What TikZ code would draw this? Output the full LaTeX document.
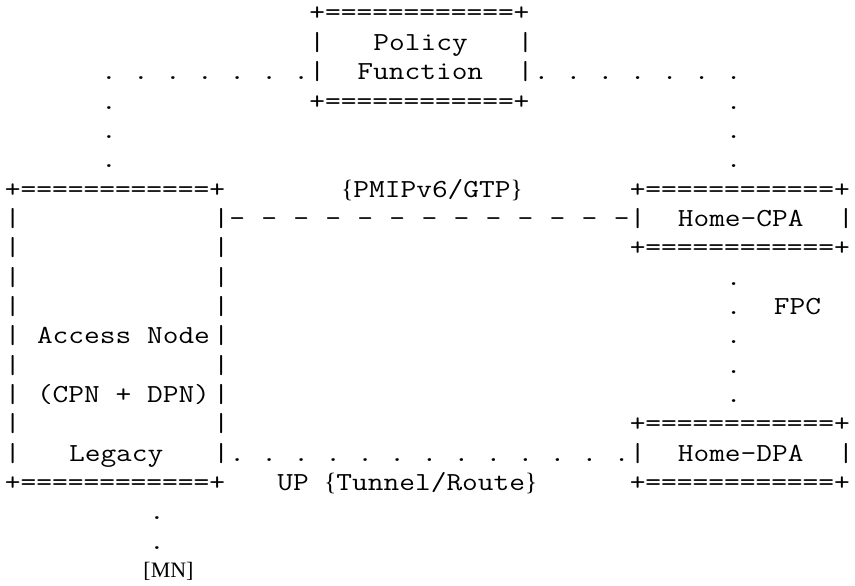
\documentclass[tikz,border=0pt]{standalone}
\usepackage{fontspec}
% Typewriter face widened so one character cell is 16.02pt
\newfontfamily\asciifont[FakeStretch=1.174]{Latin Modern Mono}
\newfontfamily\bracefont{Liberation Serif}
\newcommand\lbr{{\bracefont\fontsize{25}{25}\selectfont\{}}
\newcommand\rbr{{\bracefont\fontsize{25}{25}\selectfont\}}}

\tikzset{
  chr/.style={anchor=base west, inner sep=0pt, outer sep=0pt,
    text=black, font=\asciifont\fontsize{26}{26}\selectfont},
  serifchr/.style={anchor=base, inner sep=0pt, outer sep=0pt,
    text=black, font=\bracefont\fontsize{22}{22}\selectfont},
}
% \cellat{name}{column}{row}{text}: text starting at a character cell
\newcommand\cellat[4]{\node[chr] (#1) at ({4.99+16.02*(#2)}, {-21-29.35*((#3)-1)}) {#4};}

\begin{document}
\begin{tikzpicture}[x=1pt, y=1pt]
\useasboundingbox[fill=white] (0,0) rectangle (855,-586);

% Policy Function box
\cellat{pf-top}{19}{1}{+============+}
\cellat{pf-l1}{19}{2}{|}
\cellat{pf-name1}{23}{2}{Policy}
\cellat{pf-r1}{32}{2}{|}
\cellat{pf-l2}{19}{3}{|}
\cellat{pf-name2}{22}{3}{Function}
\cellat{pf-r2}{32}{3}{|}
\cellat{pf-bot}{19}{4}{+============+}

% dotted links from the Policy Function to both sides
\foreach \c in {6,8,...,18} {\cellat{pl-\c}{\c}{3}{.}}
\foreach \c in {33,35,...,45} {\cellat{pr-\c}{\c}{3}{.}}
\foreach \r in {4,5,6} {
  \cellat{vl-\r}{6}{\r}{.}
  \cellat{vr-\r}{45}{\r}{.}
}

% Access Node box
\cellat{an-top}{0}{7}{+============+}
\foreach \r in {8,...,16} {
  \cellat{an-l\r}{0}{\r}{|}
  \cellat{an-r\r}{13}{\r}{|}
}
\cellat{an-name1}{2}{12}{Access Node}
\cellat{an-name2}{2}{14}{(CPN + DPN)}
\cellat{an-name3}{4}{16}{Legacy}
\cellat{an-bot}{0}{17}{+============+}

% Home-CPA box
\cellat{cpa-top}{39}{7}{+============+}
\cellat{cpa-l}{39}{8}{|}
\cellat{cpa-name}{42}{8}{Home-CPA}
\cellat{cpa-r}{52}{8}{|}
\cellat{cpa-bot}{39}{9}{+============+}

% Home-DPA box
\cellat{dpa-top}{39}{15}{+============+}
\cellat{dpa-l}{39}{16}{|}
\cellat{dpa-name}{42}{16}{Home-DPA}
\cellat{dpa-r}{52}{16}{|}
\cellat{dpa-bot}{39}{17}{+============+}

% control path between Access Node and Home-CPA
\foreach \c in {14,16,...,38} {\cellat{cp-\c}{\c}{8}{-}}
\cellat{cp-label}{21}{7}{\lbr PMIPv6/GTP\rbr}

% FPC link between Home-CPA and Home-DPA
\foreach \r in {10,...,14} {\cellat{fpc-\r}{45}{\r}{.}}
\cellat{fpc-label}{48}{11}{FPC}

% user plane between Access Node and Home-DPA
\foreach \c in {14,16,...,38} {\cellat{up-\c}{\c}{16}{.}}
\cellat{up-label}{17}{17}{UP \lbr Tunnel/Route\rbr}

% mobile node below the Access Node
\cellat{mn-1}{9}{18}{.}
\cellat{mn-2}{9}{19}{.}
\node[serifchr] (mn) at (168.5,-577) {[MN]};
\end{tikzpicture}
\end{document}
